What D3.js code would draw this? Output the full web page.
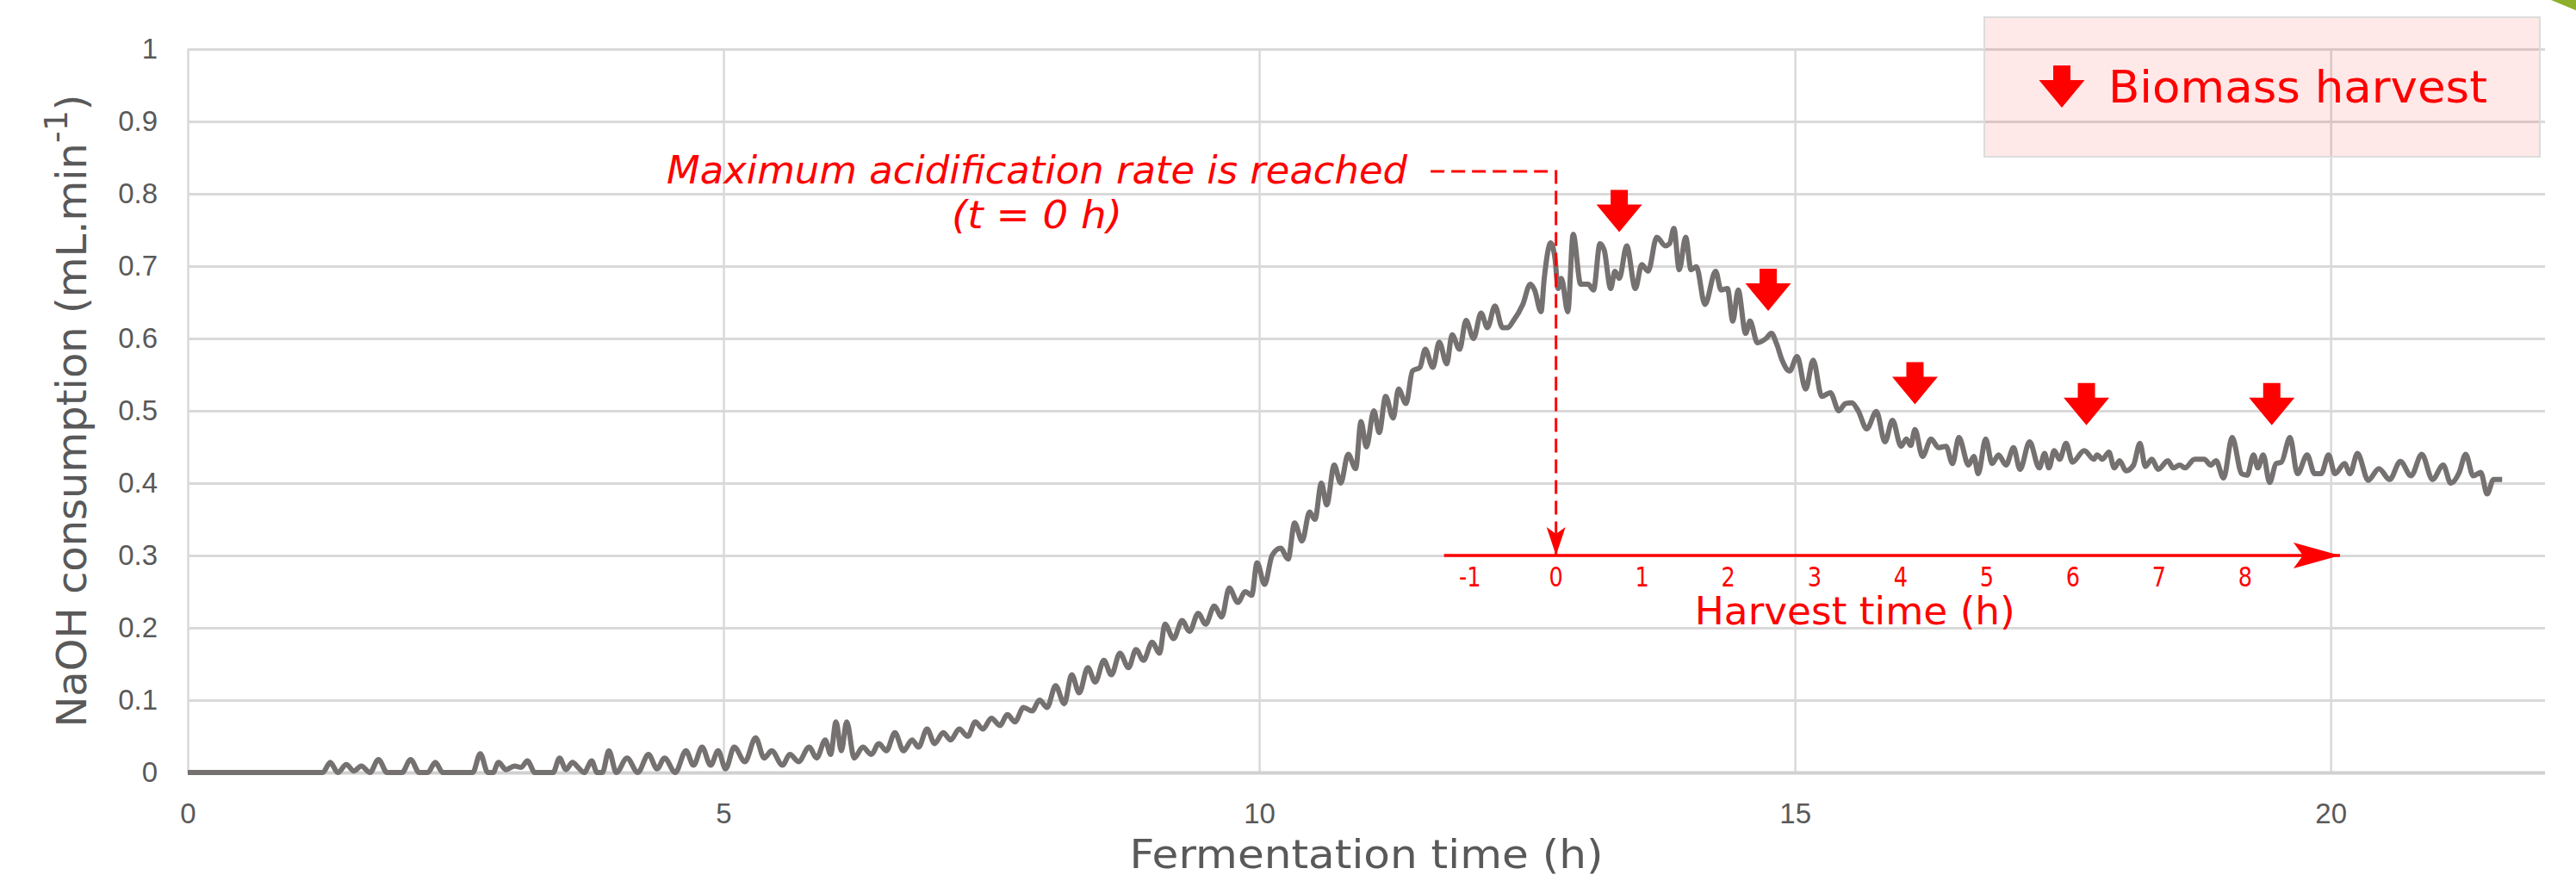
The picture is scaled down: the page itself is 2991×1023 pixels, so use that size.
<!DOCTYPE html>
<html>
<head>
<meta charset="utf-8">
<script src="https://cdn.jsdelivr.net/npm/d3@7"></script>
<style>
  html, body { margin: 0; padding: 0; background: #fff; }
  svg { display: block; }
</style>
</head>
<body>
<svg id="chart"></svg>
<script>
// fermentation time (h)
const time = [
    0, 1.26, 1.33, 1.40, 1.48, 1.55, 1.62, 1.70, 1.78, 1.86,
    2.00, 2.08, 2.16, 2.24, 2.31, 2.38, 2.66, 2.73, 2.80, 2.85,
    2.90, 2.97, 3.05, 3.11, 3.17, 3.24, 3.41, 3.47, 3.53, 3.59,
    3.65, 3.70, 3.77, 3.82,
    3.87, 3.93, 4.00, 4.10, 4.20, 4.30, 4.38, 4.45, 4.55, 4.65,
    4.72, 4.80, 4.88, 4.95, 5.02, 5.10, 5.20, 5.30, 5.38, 5.45,
    5.55, 5.62, 5.70, 5.80, 5.87, 5.95, 6.00, 6.05, 6.10, 6.15,
    6.22, 6.30, 6.38, 6.45, 6.52, 6.60, 6.68, 6.76, 6.82, 6.90,
    6.97, 7.05, 7.12, 7.20, 7.28, 7.35, 7.42, 7.50, 7.58, 7.65,
    7.72, 7.80, 7.88, 7.95, 8.02,
    8.10, 8.18, 8.25, 8.32, 8.40, 8.47, 8.55, 8.62, 8.70, 8.78,
    8.85, 8.92, 9.00, 9.07, 9.12, 9.20, 9.28, 9.35, 9.43, 9.50,
    9.58, 9.65, 9.72, 9.80, 9.87, 9.93, 9.98, 10.05, 10.12, 10.20,
    10.27, 10.33, 10.40, 10.47, 10.52, 10.58, 10.63, 10.70, 10.76, 10.83,
    10.90, 10.95, 11.00, 11.07, 11.12, 11.18, 11.25, 11.30, 11.37, 11.43,
    11.50, 11.55, 11.62, 11.68, 11.75, 11.80, 11.87, 11.93, 12.00, 12.07,
    12.13, 12.20, 12.27, 12.32,
    12.37, 12.46, 12.53, 12.57, 12.63, 12.66, 12.72, 12.76, 12.79, 12.82,
    12.88, 12.93, 13.00, 13.07, 13.12, 13.18, 13.22, 13.28, 13.32, 13.36,
    13.43, 13.51, 13.57, 13.63, 13.71, 13.79, 13.83, 13.87, 13.92, 13.98,
    14.03, 14.08, 14.16, 14.26, 14.31, 14.37, 14.42, 14.47, 14.54, 14.58,
    14.65, 14.73, 14.78, 14.83,
    14.88, 14.95, 15.02, 15.10, 15.17, 15.25, 15.33, 15.41, 15.47,
    15.53, 15.59, 15.67, 15.76, 15.84, 15.91, 15.99, 16.04, 16.08, 16.12,
    16.19, 16.27, 16.34, 16.41, 16.47, 16.53, 16.62, 16.67, 16.71, 16.78,
    16.84, 16.90, 16.97, 17.04, 17.10, 17.19, 17.28, 17.33, 17.37, 17.42,
    17.47, 17.53, 17.59, 17.70, 17.79, 17.82, 17.87, 17.93, 17.98, 18.03,
    18.09, 18.16, 18.22, 18.27, 18.33, 18.39, 18.48, 18.53, 18.59, 18.64,
    18.73, 18.82, 18.88, 18.93, 19.00, 19.08, 19.17, 19.22, 19.28, 19.32,
    19.37, 19.43, 19.49, 19.54, 19.62, 19.69, 19.78, 19.85, 19.91, 19.98,
    20.04, 20.13, 20.18, 20.25, 20.35,
    20.45, 20.55, 20.65, 20.75, 20.85, 20.95, 21.05, 21.12, 21.20, 21.26,
    21.33, 21.40, 21.46, 21.52, 21.60
]

// NaOH consumption (mL/min)
const consumption = [
    0, 0, 0.014, 0, 0.011, 0.002, 0.009, 0, 0.018, 0,
    0, 0.018, 0, 0, 0.014, 0, 0, 0.026, 0, 0,
    0.014, 0.004, 0.009, 0.007, 0.016, 0, 0, 0.02, 0.004, 0.014,
    0.006, 0, 0.016, 0,
    0, 0.03, 0, 0.02, 0, 0.025, 0.005, 0.02, 0, 0.03,
    0.01, 0.035, 0.01, 0.03, 0.005, 0.035, 0.015, 0.048, 0.02, 0.03,
    0.01, 0.025, 0.015, 0.035, 0.02, 0.045, 0.025, 0.07, 0.03, 0.07,
    0.02, 0.035, 0.025, 0.04, 0.03, 0.055, 0.03, 0.045, 0.035, 0.06,
    0.04, 0.055, 0.045, 0.06, 0.05, 0.07, 0.06, 0.075, 0.065, 0.08,
    0.07, 0.09, 0.085, 0.1, 0.09,
    0.12, 0.095, 0.135, 0.11, 0.145, 0.125, 0.155, 0.135, 0.165, 0.145,
    0.17, 0.155, 0.18, 0.165, 0.205, 0.185, 0.21, 0.195, 0.22, 0.205,
    0.23, 0.215, 0.255, 0.235, 0.25, 0.245, 0.29, 0.26, 0.3, 0.31,
    0.295, 0.345, 0.32, 0.36, 0.35, 0.4, 0.37, 0.425, 0.4, 0.44,
    0.42, 0.485, 0.45, 0.5, 0.47, 0.52, 0.49, 0.53, 0.51, 0.555,
    0.56, 0.585, 0.56, 0.595, 0.565, 0.605, 0.585, 0.625, 0.6, 0.635,
    0.615, 0.645, 0.615, 0.615,
    0.624, 0.647, 0.675, 0.667, 0.637, 0.683, 0.732, 0.711, 0.669, 0.683,
    0.637, 0.744, 0.675, 0.675, 0.667, 0.731, 0.722, 0.669, 0.693, 0.683,
    0.728, 0.669, 0.702, 0.693, 0.740, 0.728, 0.731, 0.752, 0.695, 0.740,
    0.695, 0.699, 0.647, 0.693, 0.667, 0.669, 0.624, 0.667, 0.607, 0.624,
    0.594, 0.600, 0.607, 0.592,
    0.57, 0.555, 0.575, 0.53, 0.57, 0.52, 0.525, 0.50, 0.51,
    0.511, 0.500, 0.475, 0.499, 0.457, 0.487, 0.451, 0.461, 0.452, 0.474,
    0.437, 0.461, 0.449, 0.451, 0.427, 0.463, 0.425, 0.437, 0.413, 0.461,
    0.427, 0.439, 0.425, 0.449, 0.419, 0.457, 0.421, 0.441, 0.421, 0.445,
    0.433, 0.455, 0.429, 0.445, 0.433, 0.439, 0.433, 0.443, 0.421, 0.431,
    0.417, 0.425, 0.455, 0.423, 0.433, 0.419, 0.431, 0.421, 0.425, 0.421,
    0.433, 0.433, 0.425, 0.431, 0.407, 0.463, 0.413, 0.411, 0.439, 0.421,
    0.439, 0.401, 0.427, 0.429, 0.463, 0.413, 0.439, 0.413, 0.413, 0.439,
    0.413, 0.427, 0.413, 0.441, 0.404,
    0.42, 0.405, 0.43, 0.41, 0.44, 0.405, 0.425, 0.40, 0.415, 0.44,
    0.41, 0.415, 0.385, 0.405, 0.405
]

const xTicks = [0, 5, 10, 15, 20]
const yTicks = [0, 0.1, 0.2, 0.3, 0.4, 0.5, 0.6, 0.7, 0.8, 0.9, 1]
const harvestTicks = [-1, 0, 1, 2, 3, 4, 5, 6, 7, 8]

// biomass harvests: fermentation time and level of the arrow tip
const harvestTimes = [13.36, 14.75, 16.12, 17.72, 19.45]
const harvestLevels = [0.747, 0.638, 0.509, 0.48, 0.48]

const maxRateTime = 12.77      // t = 0 h of the harvest scale
const harvestAxisLevel = 0.3
const annotationLevel = 0.831

const
    width = 2991,
    height = 1023,
    margin = {
        top: 57,
        right: 36,
        bottom: 126,
        left: 218
    }

const grid = "#d9d9d9"
const red = "#ff0000"
const textGrey = "#595959"

const data = time.map((t, i) => ({ t, v: consumption[i] }))

const x = d3.scaleLinear()
    .domain([0, 22])
    .range([margin.left, width - margin.right])

const y = d3.scaleLinear()
    .domain([0, 1])
    .range([height - margin.bottom, margin.top])

// the drawn harvest scale is not to scale with the fermentation axis
const hx = d3.scaleLinear()
    .domain([0, 1])
    .range([x(maxRateTime), x(maxRateTime + 0.804)])

const xAxis = g => g
    .attr("transform", `translate(0,${y(0)})`)
    .call(d3.axisBottom(x).tickValues(xTicks).tickSize(-(y(0) - y(1))).tickPadding(36))
    .call(g => g.select(".domain").remove())
    .call(g => g.selectAll(".tick line").attr("stroke", grid).attr("stroke-width", 2.5))
    .call(g => g.selectAll(".tick text")
        .attr("fill", textGrey)
        .attr("font-size", 33)
        .attr("font-family", "Liberation Sans, Arial, sans-serif"))

const yAxis = g => g
    .attr("transform", `translate(${margin.left},0)`)
    .call(d3.axisLeft(y).tickValues(yTicks).tickFormat(d => d)
        .tickSize(-(x(22) - x(0))).tickPadding(35))
    .call(g => g.select(".domain").remove())
    .call(g => g.selectAll(".tick line")
        .attr("stroke", d => d === 0 ? "#d0d0d0" : grid)
        .attr("stroke-width", d => d === 0 ? 4 : 3))
    .call(g => g.selectAll(".tick text")
        .attr("fill", textGrey)
        .attr("font-size", 33)
        .attr("font-family", "Liberation Sans, Arial, sans-serif"))

// block arrow pointing down, tip at (0,0)
const blockArrow = "M0,0 L-26.5,-32 L-10,-32 L-10,-49 L10,-49 L10,-32 L26.5,-32 Z"

function render() {
    const svg = d3.select("#chart")
        .attr("width", width)
        .attr("height", height)
        .attr("viewBox", [0, 0, width, height])
        .style("font-family", "DejaVu Sans, Verdana, sans-serif")

    const defs = svg.append("defs")
    defs.append("marker")
        .attr("id", "bigHead")
        .attr("viewBox", "-60 -20 64 40")
        .attr("refX", 0).attr("refY", 0)
        .attr("markerWidth", 64).attr("markerHeight", 40)
        .attr("markerUnits", "userSpaceOnUse")
        .attr("orient", "auto")
        .append("path")
        .attr("d", "M0,0 L-54,-15 L-43,0 L-54,15 Z")
        .attr("fill", red)
    defs.append("marker")
        .attr("id", "smallHead")
        .attr("viewBox", "-40 -15 44 30")
        .attr("refX", 0).attr("refY", 0)
        .attr("markerWidth", 44).attr("markerHeight", 30)
        .attr("markerUnits", "userSpaceOnUse")
        .attr("orient", "auto")
        .append("path")
        .attr("d", "M0,0 L-33,-11 L-25,0 L-33,11 Z")
        .attr("fill", red)

    svg.append("g")
        .attr("class", "x-axis")
        .call(xAxis)

    svg.append("g")
        .attr("class", "y-axis")
        .call(yAxis)

    // axis titles
    svg.append("text")
        .attr("x", (x(0) + x(22)) / 2)
        .attr("y", 1008)
        .attr("text-anchor", "middle")
        .attr("font-size", 46)
        .attr("fill", textGrey)
        .attr("textLength", 550)
        .attr("lengthAdjust", "spacingAndGlyphs")
        .text("Fermentation time (h)")

    const yTitle = svg.append("text")
        .attr("transform", `translate(100,${(y(0) + y(1)) / 2}) rotate(-90)`)
        .attr("text-anchor", "middle")
        .attr("font-size", 48)
        .attr("fill", textGrey)
    yTitle.append("tspan").text("NaOH consumption (mL.min")
    yTitle.append("tspan").attr("baseline-shift", "super").attr("font-size", 38).text("-1")
    yTitle.append("tspan").text(")")

    // the series
    const line = d3.line()
        .x(d => x(d.t))
        .y(d => y(d.v))
        .curve(d3.curveMonotoneX)

    svg.append("path")
        .datum(data)
        .attr("fill", "none")
        .attr("stroke", "#767171")
        .attr("stroke-width", 6)
        .attr("stroke-linejoin", "round")
        .attr("d", line)

    // harvest time axis
    svg.append("line")
        .attr("x1", hx(-1.3))
        .attr("x2", hx(9.1))
        .attr("y1", y(harvestAxisLevel))
        .attr("y2", y(harvestAxisLevel))
        .attr("stroke", red)
        .attr("stroke-width", 3.5)
        .attr("marker-end", "url(#bigHead)")

    // narrow, tall digits like the original
    const squeeze = 0.8
    svg.append("g")
        .selectAll("text")
        .data(harvestTicks)
        .join("text")
        .attr("transform", `scale(${squeeze},1)`)
        .attr("x", d => hx(d) / squeeze)
        .attr("y", y(harvestAxisLevel) + 36)
        .attr("text-anchor", "middle")
        .attr("font-size", 32)
        .attr("fill", red)
        .text(d => d)

    svg.append("text")
        .attr("x", hx(3.47))
        .attr("y", y(harvestAxisLevel) + 80)
        .attr("text-anchor", "middle")
        .attr("font-size", 44)
        .attr("fill", red)
        .attr("textLength", 372)
        .attr("lengthAdjust", "spacingAndGlyphs")
        .text("Harvest time (h)")

    // maximum acidification rate annotation
    svg.append("path")
        .attr("d", d3.line()([
            [x(11.6), y(annotationLevel)],
            [x(maxRateTime), y(annotationLevel)],
            [x(maxRateTime), y(harvestAxisLevel)]
        ]))
        .attr("fill", "none")
        .attr("stroke", red)
        .attr("stroke-width", 3)
        .attr("stroke-dasharray", "16,8")
        .attr("marker-end", "url(#smallHead)")

    svg.append("text")
        .attr("x", 1204)
        .attr("y", 213)
        .attr("text-anchor", "middle")
        .attr("font-size", 44)
        .attr("font-style", "italic")
        .attr("fill", red)
        .attr("textLength", 860)
        .attr("lengthAdjust", "spacingAndGlyphs")
        .text("Maximum acidification rate is reached")

    svg.append("text")
        .attr("x", 1204)
        .attr("y", 265)
        .attr("text-anchor", "middle")
        .attr("font-size", 44)
        .attr("font-style", "italic")
        .attr("fill", red)
        .attr("textLength", 198)
        .attr("lengthAdjust", "spacingAndGlyphs")
        .text("(t = 0 h)")

    // harvest arrows
    svg.append("g")
        .selectAll("path")
        .data(harvestTimes)
        .join("path")
        .attr("transform", (d, i) => `translate(${x(d)},${y(harvestLevels[i])})`)
        .attr("d", blockArrow)
        .attr("fill", red)

    // legend
    const legend = svg.append("g")
    legend.append("rect")
        .attr("x", 2304).attr("y", 20)
        .attr("width", 645).attr("height", 162)
        .attr("fill", "rgba(255,0,0,0.09)")
        .attr("stroke", "#dcdcdc")
        .attr("stroke-width", 2)
    legend.append("path")
        .attr("transform", "translate(2394,125)")
        .attr("d", blockArrow)
        .attr("fill", red)
    legend.append("text")
        .attr("x", 2448)
        .attr("y", 119)
        .attr("font-size", 52)
        .attr("fill", red)
        .attr("textLength", 440)
        .attr("lengthAdjust", "spacingAndGlyphs")
        .text("Biomass harvest")

    // green corner of the next slide element
    svg.append("path")
        .attr("d", "M2962,0 L2991,0 L2991,12 Z")
        .attr("fill", "#8db02b")
}

render()
</script>
</body>
</html>
